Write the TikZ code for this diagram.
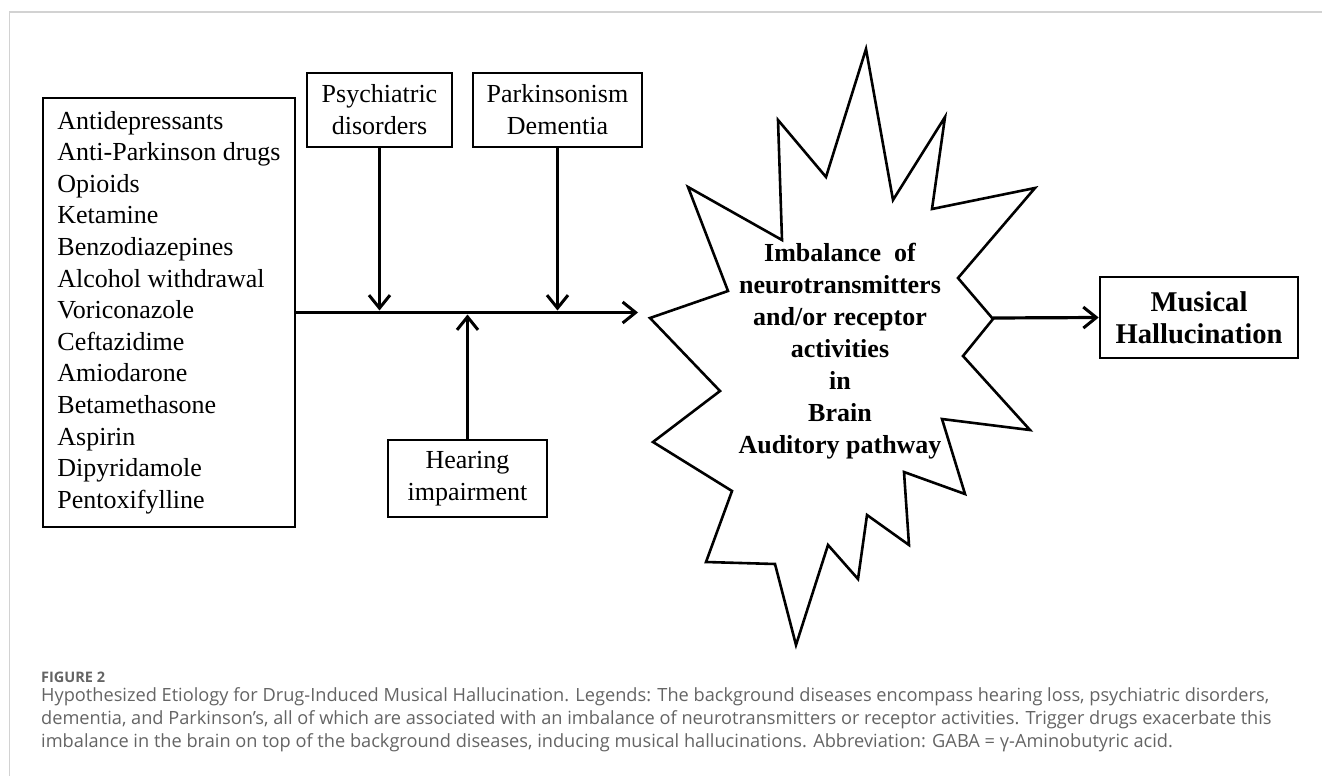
\documentclass[tikz,border=0pt]{standalone}
\usepackage{fontspec}
\setmainfont{Liberation Serif}
\newfontfamily\capfont{Open Sans}
\usetikzlibrary{arrows.meta}
\definecolor{capgray}{RGB}{100,100,100}
\definecolor{framegray}{RGB}{210,210,210}
\begin{document}
\begin{tikzpicture}[x=1pt,y=-1pt,
  box/.style={draw,line width=2.6pt,inner sep=0pt,align=center,font=\fontsize{26}{32}\selectfont},
  arr/.style={line width=3.2pt,-{Straight Barb[length=13pt,width=21pt,line width=3pt]}},
  starline/.style={draw,line width=2.6pt,line join=miter},
  captext/.style={anchor=west,inner sep=0pt,text=capgray,font=\capfont\fontsize{18.2}{20}\selectfont}]
\useasboundingbox (0,0) rectangle (1322,776);
\draw[framegray,line width=1.5pt] (9.5,776) -- (9.5,12) -- (1322,12);

\node[box,align=left,minimum width=252pt,minimum height=429pt,font=\fontsize{26}{31.6}\selectfont] (drugs) at (169,312.5)
 {Antidepressants\\Anti-Parkinson drugs\\Opioids\\Ketamine\\Benzodiazepines\\Alcohol withdrawal\\Voriconazole\\Ceftazidime\\Amiodarone\\Betamethasone\\Aspirin\\Dipyridamole\\Pentoxifylline};
\node[box,minimum width=145pt,minimum height=74pt] (psy) at (379.5,110) {Psychiatric\\disorders};
\node[box,minimum width=169pt,minimum height=74pt] (park) at (557.5,110) {Parkinsonism\\Dementia};
\node[box,minimum width=159pt,minimum height=77pt] (hear) at (467.5,478.5) {Hearing\\impairment};
\node[box,minimum width=198pt,minimum height=81pt,font=\bfseries\fontsize{28.6}{32}\selectfont] (mus) at (1199,317.5) {Musical\\Hallucination};

\draw[starline] (650,318) -- (728,291) -- (688,187) -- (782,240) -- (778,120) -- (826,177) -- (866,49) -- (893,200) -- (945,117) -- (932,209) -- (1035,188) -- (958,278) -- (993,319) -- (963,356) -- (1030,430) -- (942,419) -- (965,494) -- (904,472) -- (909,545) -- (867,515) -- (858,579) -- (828,545) -- (796,645) -- (775,564) -- (706,562) -- (732,491) -- (653,442) -- (720,391) -- cycle;
\node[align=center,inner sep=0pt,font=\bfseries\fontsize{26}{32}\selectfont] (core) at (840,351)
 {Imbalance\ \ of\\neurotransmitters\\and/or receptor\\activities\\in\\Brain\\Auditory pathway};

\coordinate (mainend) at (638,312.5);
\coordinate (startip) at (993,318);
\draw[arr] (drugs.east) -- (mainend);
\draw[arr,shorten >=2pt] (psy.south) -- (psy.south |- mainend);
\draw[arr,shorten >=2pt] (park.south) -- (park.south |- mainend);
\draw[arr,shorten >=2pt] (hear.north) -- (hear.north |- mainend);
\draw[arr] (startip) -- (mus.west);

\node[anchor=west,inner sep=0pt,text=capgray,font=\capfont\bfseries\fontsize{14.5}{16}\selectfont] (figlabel) at (41,677) {FIGURE 2};
\node[captext] (cap1) at (41,697) {Hypothesized Etiology for Drug-Induced Musical Hallucination. Legends: The background diseases encompass hearing loss, psychiatric disorders,};
\node[captext] (cap2) at (41,720) {dementia, and Parkinson’s, all of which are associated with an imbalance of neurotransmitters or receptor activities. Trigger drugs exacerbate this};
\node[captext] (cap3) at (41,743) {imbalance in the brain on top of the background diseases, inducing musical hallucinations. Abbreviation: GABA = γ-Aminobutyric acid.};
\end{tikzpicture}
\end{document}
